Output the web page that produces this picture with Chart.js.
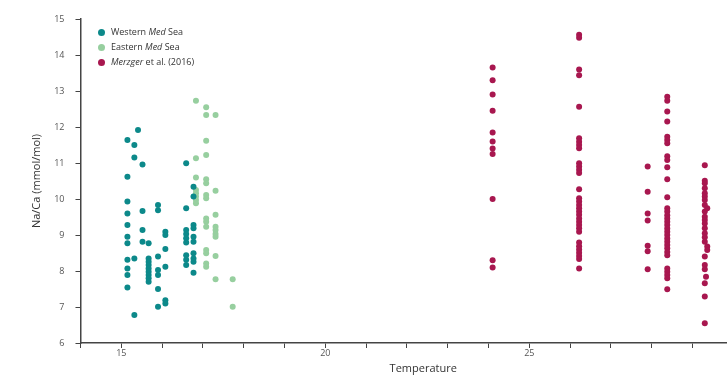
<!DOCTYPE html>
<html>
<head>
<meta charset="utf-8">
<script src="https://cdn.jsdelivr.net/npm/chart.js@4"></script>
<style>
  html, body { margin: 0; padding: 0; background: #fff; overflow: hidden; }
  #wrap { position: relative; width: 770px; height: 378px; }
  .legend { position: absolute; left: 98px; top: 26px; font: 9px "Open Sans", sans-serif; color: #333; }
  .legend div { height: 15px; line-height: 12px; white-space: nowrap; }
  .legend span.dot { display: inline-block; width: 7px; height: 7px; border-radius: 50%; margin-right: 6px; vertical-align: -1px; }
</style>
</head>
<body>
<div id="wrap">
  <canvas id="naCaChart"></canvas>
  <div class="legend" id="legend"></div>
</div>
<script>
// Na/Ca against temperature, three sample groups

const westTemp = [15.15, 15.15, 15.15, 15.15, 15.15, 15.15, 15.15, 15.15, 15.15, 15.15, 15.15,
  15.32, 15.32, 15.32, 15.32, 15.41, 15.52, 15.52, 15.52, 15.52,
  15.67, 15.67, 15.67, 15.67, 15.67, 15.67, 15.67, 15.67, 15.67,
  15.9, 15.9, 15.9, 15.9, 15.9, 15.9, 15.9,
  16.08, 16.08, 16.08, 16.08, 16.08, 16.08,
  16.59, 16.59, 16.59, 16.59, 16.59, 16.59, 16.59, 16.59, 16.59,
  16.77, 16.77, 16.77, 16.77, 16.77, 16.77, 16.77, 16.77, 16.77, 16.77];
const westNaCa = [11.64, 10.62, 9.93, 9.6, 9.28, 8.95, 8.77, 8.31, 8.07, 7.89, 7.54,
  11.5, 11.15, 8.35, 6.78, 11.92, 10.96, 9.67, 9.14, 8.81,
  8.77, 8.35, 8.26, 8.17, 8.07, 7.98, 7.89, 7.8, 7.7,
  9.83, 9.69, 8.4, 8.03, 7.89, 7.5, 7.01,
  9.09, 9.0, 8.61, 8.12, 7.19, 7.1,
  10.99, 9.74, 9.14, 9.03, 8.91, 8.79, 8.44, 8.31, 8.17,
  10.34, 10.07, 9.28, 9.19, 8.95, 8.81, 8.49, 8.35, 8.26, 7.95];

const eastTemp = [16.83, 16.83, 16.83, 16.83, 16.83, 16.83, 16.83, 16.83,
  17.08, 17.08, 17.08, 17.08, 17.08, 17.08, 17.08, 17.08, 17.08, 17.08, 17.08, 17.08, 17.08, 17.08, 17.08,
  17.31, 17.31, 17.31, 17.31, 17.31, 17.31, 17.31, 17.31, 17.31,
  17.73, 17.73];
const eastNaCa = [12.73, 11.13, 10.6, 10.25, 10.16, 10.07, 9.97, 9.88,
  12.55, 12.33, 11.62, 11.22, 10.55, 10.44, 10.11, 10.02, 9.46, 9.37, 9.23, 8.58, 8.49, 8.21, 8.12,
  12.33, 10.23, 9.56, 9.23, 9.14, 9.03, 8.95, 8.42, 7.77,
  7.77, 7.01];

const merzTemp = [24.1, 24.1, 24.1, 24.1, 24.1, 24.1, 24.1, 24.1, 24.1, 24.1, 24.1,
  26.22, 26.22, 26.22, 26.22, 26.22, 26.22, 26.22, 26.22, 26.22, 26.22, 26.22, 26.22, 26.22, 26.22, 26.22, 26.22,
  26.22, 26.22, 26.22, 26.22, 26.22, 26.22, 26.22, 26.22, 26.22, 26.22, 26.22, 26.22, 26.22, 26.22, 26.22, 26.22,
  27.9, 27.9, 27.9, 27.9, 27.9, 27.9, 27.9,
  28.38, 28.38, 28.38, 28.38, 28.38, 28.38, 28.38, 28.38, 28.38, 28.38, 28.38, 28.38, 28.38, 28.38, 28.38, 28.38,
  28.38, 28.38, 28.38, 28.38, 28.38, 28.38, 28.38, 28.38, 28.38, 28.38, 28.38, 28.38, 28.38, 28.38, 28.38, 28.38,
  29.3, 29.3, 29.3, 29.3, 29.3, 29.3, 29.3, 29.3, 29.3, 29.3, 29.3, 29.3, 29.3, 29.3, 29.3, 29.3, 29.3, 29.3, 29.3, 29.3,
  29.36, 29.36, 29.36, 29.33, 29.3, 29.3];
const merzNaCa = [13.65, 13.3, 12.9, 12.45, 11.85, 11.6, 11.4, 11.25, 10.0, 8.3, 8.1,
  14.56, 14.48, 13.6, 13.44, 12.56, 11.69, 11.59, 11.5, 11.41, 10.99, 10.9, 10.81, 10.72, 10.27, 10.02, 9.93,
  9.83, 9.74, 9.65, 9.56, 9.46, 9.37, 9.28, 9.19, 9.09, 8.79, 8.69, 8.6, 8.51, 8.42, 8.33, 8.07,
  10.9, 10.2, 9.6, 9.4, 8.7, 8.55, 8.05,
  12.84, 12.73, 12.43, 12.15, 11.73, 11.64, 11.55, 11.19, 11.08, 10.88, 10.55, 10.05, 9.74, 9.65, 9.55, 9.46,
  9.37, 9.28, 9.18, 9.09, 9.0, 8.9, 8.81, 8.72, 8.63, 8.53, 8.44, 8.07, 7.98, 7.89, 7.8, 7.49,
  10.94, 10.51, 10.44, 10.3, 10.16, 10.07, 9.97, 9.83, 9.65, 9.51, 9.42, 9.32, 9.19, 9.05, 8.94, 8.81, 8.4, 8.17, 8.05, 7.66,
  9.74, 8.68, 8.58, 7.84, 7.29, 6.55];

const seriesNames = ["Western <i>Med</i> Sea", "Eastern <i>Med</i> Sea", "<i>Merzger</i> et al. (2016)"];
const seriesColors = ["#0c898a", "#97cf9f", "#a8174f"];

const toPoints = (xs, ys) => xs.map((x, i) => ({ x, y: ys[i] }));
const groups = [
  toPoints(westTemp, westNaCa),
  toPoints(eastTemp, eastNaCa),
  toPoints(merzTemp, merzNaCa),
];

const axisColor = "#444";
const tickFont = { family: "'Open Sans', sans-serif", size: 9 };

new Chart(document.getElementById("naCaChart"), {
  type: 'scatter',
  data: {
    datasets: groups.map((pts, i) => ({
      label: seriesNames[i].replace(/<\/?i>/g, ""),
      data: pts,
      backgroundColor: seriesColors[i],
      borderWidth: 0,
      pointRadius: 3,
    })),
  },
  options: {
    responsive: true,
    maintainAspectRatio: false,
    animation: false,
    layout: { padding: { left: 0, top: 19, right: 0, bottom: 0 } },
    plugins: { legend: { display: false }, tooltip: { enabled: false } },
    scales: {
      x: {
        type: 'linear',
        min: 14,
        max: 30.8,
        ticks: {
          stepSize: 1,
          autoSkip: false,
          maxRotation: 0,
          padding: 0,
          color: "#555",
          font: tickFont,
          // only every fifth degree is labelled, but the axis end stays bare
          callback: (v) => (v % 5 === 0 && v < 30 ? v : ""),
        },
        grid: { drawOnChartArea: false, drawTicks: true, tickLength: 5, color: axisColor, tickWidth: 1 },
        border: { color: axisColor, width: 1.5 },
        title: {
          display: true,
          text: "Temperature",
          color: "#333",
          font: { family: "'Open Sans', sans-serif", size: 11 },
          padding: { top: 3, bottom: 3 },
        },
      },
      y: {
        min: 6,
        max: 15,
        ticks: { stepSize: 1, padding: 11, color: "#555", font: tickFont },
        grid: { drawOnChartArea: false, drawTicks: true, tickLength: 5, color: axisColor, tickWidth: 1 },
        border: { color: axisColor, width: 1.5 },
        title: {
          display: true,
          text: "Na/Ca (mmol/mol)",
          color: "#333",
          font: { family: "'Open Sans', sans-serif", size: 11 },
          padding: { top: 30, bottom: 0 },
        },
      },
    },
  },
});

// legend with italic parts, laid over the plot
const legend = document.getElementById("legend");
seriesNames.forEach((name, i) => {
  const row = document.createElement("div");
  row.innerHTML = '<span class="dot" style="background:' + seriesColors[i] + '"></span>' + name;
  legend.appendChild(row);
});
</script>
</body>
</html>
